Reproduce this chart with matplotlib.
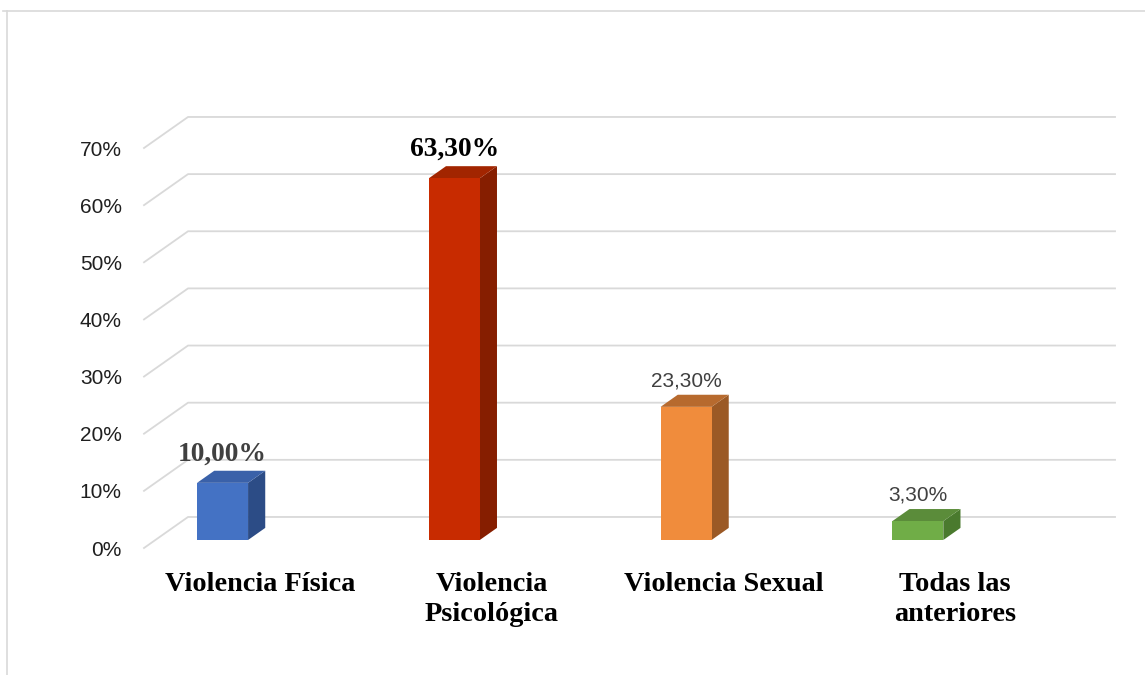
import matplotlib.pyplot as plt
from matplotlib.patches import Polygon
from matplotlib.lines import Line2D

# ----------------------------
# Data
# ----------------------------
categories = ["Violencia Física", "Violencia\nPsicológica", "Violencia Sexual", "Todas las\nanteriores"]
values = [10.0, 63.3, 23.3, 3.3]
value_labels = ["10,00%", "63,30%", "23,30%", "3,30%"]
yticks = [0, 10, 20, 30, 40, 50, 60, 70]

front_colors = ["#4472C4", "#C82B00", "#F08C3C", "#70AD47"]
side_colors = ["#2C4C86", "#861E00", "#9B5925", "#4A7A2E"]
top_colors = ["#3A61A9", "#A22500", "#B76A2E", "#5B8C3A"]

# label styles: first two bold serif, last two plain sans
label_styles = [
    dict(family="Liberation Serif", weight="bold", size=19.8, color="#404040"),
    dict(family="Liberation Serif", weight="bold", size=19.8, color="black"),
    dict(family="Liberation Sans", weight="normal", size=15, color="#404040"),
    dict(family="Liberation Sans", weight="normal", size=15, color="#404040"),
]

# ----------------------------
# 3D-ish geometry (in data units)
# ----------------------------
DX = 0.19      # full depth, x shift (category units)
DY = 5.43      # full depth, y shift (percent units)
F0 = 0.258     # depth where bar front face sits
FB = 0.39      # bar depth fraction
BAR_OFF = -0.32
BAR_W = 0.22

fig = plt.figure(figsize=(11.45, 6.75), dpi=100)
ax = fig.add_axes([144 / 1145, 127 / 675, 927 / 1145, 400 / 675])
ax.set_xlim(-0.5, 3.5)
ax.set_ylim(0, 70)

# back gridlines with perspective diagonal
for v in yticks:
    ax.add_line(Line2D([-0.5, -0.5 + DX, 3.5 + DX], [v, v + DY, v + DY],
                       color="#d9d9d9", linewidth=1.3, clip_on=False, zorder=1))

for i, v in enumerate(values):
    x0 = i + BAR_OFF + F0 * DX
    y0 = F0 * DY
    dx, dy = FB * DX, FB * DY
    front = [(x0, y0), (x0 + BAR_W, y0), (x0 + BAR_W, y0 + v), (x0, y0 + v)]
    side = [(x0 + BAR_W, y0), (x0 + BAR_W + dx, y0 + dy),
            (x0 + BAR_W + dx, y0 + v + dy), (x0 + BAR_W, y0 + v)]
    top = [(x0, y0 + v), (x0 + BAR_W, y0 + v),
           (x0 + BAR_W + dx, y0 + v + dy), (x0 + dx, y0 + v + dy)]
    for pts, c in [(side, side_colors[i]), (top, top_colors[i]), (front, front_colors[i])]:
        ax.add_patch(Polygon(pts, closed=True, facecolor=c, edgecolor="none",
                             clip_on=False, zorder=3))
    ax.annotate(value_labels[i], (x0 + BAR_W / 2, y0 + v + dy),
                xytext=(0, 3), textcoords="offset points",
                ha="center", va="bottom", annotation_clip=False, zorder=4,
                **label_styles[i])

ax.set_xticks(range(len(categories)))
ax.set_xticklabels(categories, family="Liberation Serif", weight="bold",
                   fontsize=20.3, linespacing=1.3, va="top")
ax.set_yticks(yticks)
ax.set_yticklabels([f"{t}%" for t in yticks], family="Liberation Sans",
                   fontsize=15, color="#1f1f1f")
ax.tick_params(axis="x", length=0, pad=17)
ax.tick_params(axis="y", length=0, pad=16)
for s in ax.spines.values():
    s.set_visible(False)
ax.patch.set_alpha(0)

# chart area border (top and left edges visible)
fig.add_artist(Line2D([3 / 1145, 1], [1 - 11 / 675, 1 - 11 / 675],
                      color="#d9d9d9", linewidth=1.2))
fig.add_artist(Line2D([7 / 1145, 7 / 1145], [0, 1 - 11 / 675],
                      color="#d9d9d9", linewidth=1.2))

plt.savefig("out.png", dpi=100)
